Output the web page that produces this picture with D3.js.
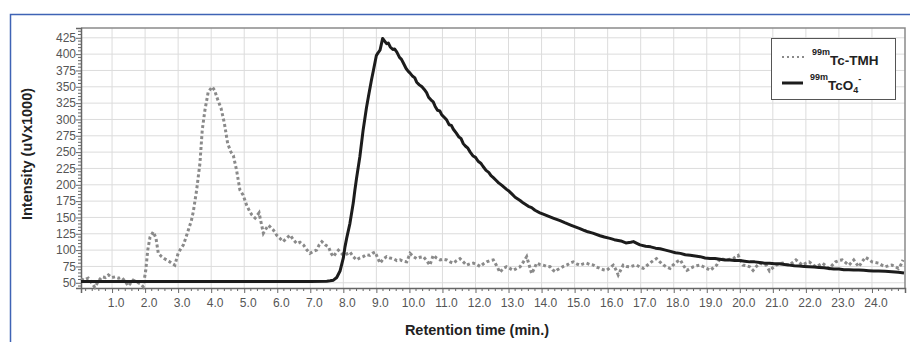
<!DOCTYPE html>
<html>
<head>
<meta charset="utf-8">
<script src="https://cdn.jsdelivr.net/npm/d3@7"></script>
<style>
  body { margin: 0; background: #fff; }
  text { font-family: "Liberation Sans", Arial, sans-serif; }
</style>
</head>
<body>
<div class="chromato"></div>
<script>
// x tick labels (minutes)
const xTicks = d3.range(1, 25);
const yTicks = [50, 75, 100, 125, 150, 175, 200, 225, 250, 275, 300, 325, 350, 375, 400, 425];

// 99mTcO4- (solid black) [time, intensity]
const tcoPoints = [
  [0.06, 52], [1, 52], [2, 52], [3, 52], [4, 52], [5, 52], [6, 52], [7, 52], [7.5, 52.5], [7.6, 53],
  [7.7, 54], [7.8, 58], [7.9, 68], [8.0, 88], [8.05, 105], [8.1, 118], [8.2, 141], [8.3, 172], [8.35, 192],
  [8.4, 210], [8.5, 243], [8.6, 284], [8.7, 318], [8.76, 335], [8.85, 360], [8.91, 375], [9.0, 398],
  [9.05, 402], [9.11, 406], [9.15, 415], [9.19, 424], [9.25, 420], [9.31, 416], [9.36, 417], [9.42, 411],
  [9.5, 407], [9.55, 408], [9.62, 403], [9.7, 395], [9.76, 392], [9.82, 386], [9.9, 378], [9.96, 374],
  [10.02, 371], [10.1, 366], [10.16, 364], [10.22, 357], [10.3, 353], [10.38, 350], [10.45, 346],
  [10.52, 341], [10.58, 334], [10.65, 330], [10.72, 327], [10.78, 320], [10.85, 314], [10.92, 313],
  [10.98, 307], [11.06, 303], [11.13, 299], [11.2, 292], [11.27, 291], [11.33, 285], [11.42, 279],
  [11.5, 273], [11.56, 271], [11.63, 263], [11.7, 259], [11.77, 256], [11.84, 250], [11.93, 244],
  [12.0, 242], [12.08, 236], [12.16, 233], [12.23, 228], [12.32, 222], [12.4, 219], [12.47, 214],
  [12.54, 211], [12.62, 207], [12.7, 203], [12.8, 199], [12.94, 193], [13.02, 190], [13.1, 186],
  [13.2, 181], [13.35, 176], [13.45, 172], [13.6, 167], [13.7, 165], [13.8, 161], [13.95, 157],
  [14.05, 155], [14.2, 152], [14.35, 149], [14.56, 145], [14.7, 142], [14.9, 138], [15.0, 136],
  [15.16, 133], [15.3, 130], [15.4, 128], [15.55, 126], [15.77, 122], [15.9, 120], [16.07, 118],
  [16.2, 116], [16.4, 114], [16.55, 111], [16.7, 112], [16.78, 113], [16.9, 110], [16.98, 108],
  [17.15, 106], [17.3, 105], [17.45, 103], [17.59, 102], [17.75, 100], [17.9, 98], [18.05, 96],
  [18.2, 95], [18.35, 93], [18.5, 92], [18.65, 91], [18.8, 90], [18.95, 88], [19.1, 87], [19.25, 87],
  [19.4, 86], [19.55, 85], [19.7, 85], [19.85, 84], [20.0, 84], [20.15, 83], [20.3, 82], [20.45, 82],
  [20.6, 81], [20.75, 80], [20.9, 80], [21.05, 79], [21.2, 79], [21.35, 78], [21.5, 77], [21.65, 76],
  [21.8, 75.5], [21.95, 75], [22.1, 74.5], [22.25, 74], [22.4, 73.5], [22.55, 73], [22.7, 72],
  [22.85, 71], [23.0, 71], [23.15, 70], [23.3, 70], [23.45, 69.5], [23.6, 69.5], [23.75, 69],
  [23.9, 68.5], [24.05, 68], [24.2, 68], [24.4, 67.5], [24.6, 67], [24.8, 66], [24.97, 65]
];

// 99mTc-TMH (grey dotted) [time, intensity]
const tmhPoints = [
  [0.06, 56], [0.15, 54], [0.28, 57], [0.38, 50], [0.48, 43], [0.58, 52], [0.69, 59], [0.8, 58], [0.89, 62],
  [1.0, 58], [1.09, 59], [1.2, 57], [1.29, 58], [1.4, 52], [1.49, 45], [1.57, 50], [1.64, 54], [1.72, 52],
  [1.79, 50], [1.87, 48], [1.94, 44], [2.02, 69], [2.08, 100], [2.15, 120], [2.25, 128], [2.33, 118],
  [2.4, 95], [2.5, 90], [2.58, 87], [2.65, 85], [2.72, 83], [2.8, 80], [2.9, 77], [3.0, 95], [3.08, 102],
  [3.16, 108], [3.24, 120], [3.31, 131], [3.4, 145], [3.46, 159], [3.56, 192], [3.66, 233], [3.73, 284],
  [3.81, 314], [3.91, 342], [4.03, 350], [4.1, 345], [4.2, 330], [4.3, 317], [4.4, 294], [4.5, 263],
  [4.6, 250], [4.67, 245], [4.77, 222], [4.87, 192], [4.97, 184], [5.07, 169], [5.17, 159], [5.23, 154],
  [5.33, 149], [5.45, 157], [5.52, 140], [5.58, 126], [5.65, 132], [5.73, 138], [5.8, 135], [5.88, 131],
  [5.98, 123], [6.08, 118], [6.18, 113], [6.28, 118], [6.39, 123], [6.5, 115], [6.59, 110], [6.69, 112],
  [6.79, 108], [6.9, 100], [6.99, 95], [7.09, 98], [7.19, 100], [7.27, 108], [7.35, 113], [7.45, 108],
  [7.55, 105], [7.63, 95], [7.7, 90], [7.78, 96], [7.85, 100], [7.93, 96], [8.0, 92], [8.1, 94], [8.2, 97],
  [8.3, 90], [8.4, 85], [8.5, 88], [8.6, 90], [8.7, 93], [8.8, 92], [8.88, 95], [8.96, 97], [9.04, 88],
  [9.11, 80], [9.2, 86], [9.31, 90], [9.41, 88], [9.51, 87], [9.62, 84], [9.72, 85], [9.82, 83], [9.92, 82],
  [10.02, 95], [10.12, 90], [10.22, 87], [10.32, 89], [10.42, 90], [10.52, 84], [10.62, 77], [10.72, 92],
  [10.82, 88], [10.93, 85], [11.03, 86], [11.13, 85], [11.23, 82], [11.33, 80], [11.43, 84], [11.53, 87],
  [11.63, 82], [11.73, 77], [11.83, 79], [11.93, 80], [12.04, 78], [12.14, 75], [12.24, 79], [12.34, 82],
  [12.44, 84], [12.54, 85], [12.64, 76], [12.74, 66], [12.84, 72], [12.94, 74.5], [13.04, 72], [13.14, 69],
  [13.25, 72], [13.35, 74.5], [13.45, 82], [13.55, 90], [13.62, 78], [13.7, 64], [13.78, 72], [13.85, 80],
  [13.95, 78], [14.05, 77], [14.15, 75], [14.26, 74.5], [14.33, 70], [14.41, 67], [14.48, 70], [14.56, 72],
  [14.66, 75], [14.76, 77], [14.86, 80], [14.96, 82], [15.06, 79], [15.16, 77], [15.26, 79], [15.36, 80],
  [15.46, 78], [15.57, 77], [15.67, 74], [15.77, 72], [15.87, 70], [15.97, 69], [16.07, 73], [16.17, 77],
  [16.25, 70], [16.32, 62], [16.4, 70], [16.47, 77], [16.57, 75], [16.68, 74.5], [16.78, 76], [16.88, 77],
  [16.98, 74], [17.08, 72], [17.18, 76], [17.28, 80], [17.38, 84], [17.48, 87], [17.58, 82], [17.69, 77],
  [17.79, 74], [17.89, 72], [17.96, 76], [18.04, 80], [18.12, 83], [18.2, 85], [18.3, 76], [18.4, 69],
  [18.5, 72], [18.6, 74.5], [18.7, 76], [18.8, 77], [18.9, 74.5], [19.0, 72], [19.1, 69], [19.2, 73],
  [19.3, 77], [19.4, 87], [19.5, 86], [19.6, 85], [19.7, 86], [19.8, 87], [19.88, 90], [19.95, 92],
  [20.02, 84], [20.1, 77], [20.2, 76], [20.3, 74.5], [20.4, 69], [20.5, 75], [20.6, 80], [20.7, 78],
  [20.8, 77], [20.9, 68], [21.0, 73], [21.1, 77], [21.2, 79], [21.3, 80], [21.4, 78], [21.5, 77], [21.6, 81],
  [21.7, 85], [21.8, 81], [21.9, 77], [22.0, 80], [22.1, 82], [22.2, 78], [22.3, 74.5], [22.4, 77],
  [22.5, 80], [22.6, 76], [22.7, 72], [22.8, 77], [22.9, 82], [23.0, 84], [23.1, 85], [23.2, 81], [23.3, 77],
  [23.38, 81], [23.45, 85], [23.52, 80], [23.6, 74.5], [23.7, 82], [23.8, 89], [23.9, 86], [24.0, 82],
  [24.1, 81], [24.2, 80], [24.3, 77], [24.4, 74.5], [24.5, 76], [24.6, 77], [24.7, 75], [24.8, 72],
  [24.88, 78], [24.94, 85]
];

const width = 910, height = 342;
const mLeft = 81, mRight = 905, mTop = 28, mBottom = 288;

const svg = d3.select('.chromato').append('svg').attr('width', width).attr('height', height);

// blue outer frame (top + left)
svg.append('path')
  .attr('d', 'M10.5,342 V14.5 H910')
  .attr('fill', 'none').attr('stroke', '#3f63b5').attr('stroke-width', 1.5);

const xScale = d3.scaleLinear().domain([0.06, 25]).range([mLeft, mRight]);
const yScale = d3.scaleLinear().domain([42, 440]).range([mBottom, mTop]);

// grid
const grid = svg.append('g').attr('class', 'grid');
grid.selectAll('line.v').data(xTicks).join('line').attr('class', 'v')
  .attr('x1', d => xScale(d)).attr('x2', d => xScale(d))
  .attr('y1', mTop).attr('y2', mBottom)
  .attr('stroke', '#dcdcdc').attr('stroke-width', 1);
grid.selectAll('line.h').data(yTicks).join('line').attr('class', 'h')
  .attr('x1', mLeft).attr('x2', mRight)
  .attr('y1', d => yScale(d)).attr('y2', d => yScale(d))
  .attr('stroke', '#dcdcdc').attr('stroke-width', 1);

// plot border top/right
svg.append('path')
  .attr('d', `M${mLeft},${mTop} H${mRight} V${mBottom}`)
  .attr('fill', 'none').attr('stroke', '#8a8a8a').attr('stroke-width', 1.5);

// minor ticks
const xMinor = d3.range(0.2, 25, 0.2).filter(d => Math.abs(d - Math.round(d)) > 0.01);
svg.append('g').selectAll('line').data(xMinor).join('line')
  .attr('x1', d => xScale(d)).attr('x2', d => xScale(d))
  .attr('y1', mBottom).attr('y2', mBottom + 3)
  .attr('stroke', '#666').attr('stroke-width', 1);
const yMinor = d3.range(45, 440, 5).filter(d => d % 25 !== 0);
svg.append('g').selectAll('line').data(yMinor).join('line')
  .attr('x1', mLeft - 3).attr('x2', mLeft)
  .attr('y1', d => yScale(d)).attr('y2', d => yScale(d))
  .attr('stroke', '#666').attr('stroke-width', 1);

// axes
const xAxis = d3.axisBottom(xScale).tickValues(xTicks).tickSize(5).tickFormat(d3.format('.1f'));
const gx = svg.append('g').attr('transform', `translate(0,${mBottom})`).call(xAxis);
gx.select('.domain').attr('stroke', '#666').attr('stroke-width', 1.5);
gx.selectAll('.tick line').attr('stroke', '#666');
gx.selectAll('.tick text').attr('dx', 3.5).attr('dy', '0.95em')
  .attr('fill', '#555').style('font-size', '12px');

const yAxis = d3.axisLeft(yScale).tickValues(yTicks).tickSize(5);
const gy = svg.append('g').attr('transform', `translate(${mLeft},0)`).call(yAxis);
gy.select('.domain').attr('stroke', '#666').attr('stroke-width', 1.5);
gy.selectAll('.tick line').attr('stroke', '#666');
gy.selectAll('.tick text').attr('x', -5).attr('fill', '#555').style('font-size', '12px');

// lines
const line = d3.line().x(d => xScale(d[0])).y(d => yScale(d[1]));

svg.append('path').datum(tmhPoints)
  .attr('d', line)
  .attr('fill', 'none').attr('stroke', '#8a8a8a')
  .attr('stroke-width', 3).attr('stroke-dasharray', '3,2.5');

svg.append('path').datum(tcoPoints)
  .attr('d', line)
  .attr('fill', 'none').attr('stroke', '#1c1c1c')
  .attr('stroke-width', 3).attr('stroke-linejoin', 'round');

// axis titles
svg.append('text')
  .attr('transform', 'translate(32,154) rotate(-90)')
  .attr('text-anchor', 'middle')
  .style('font-size', '14.5px').style('font-weight', 'bold').attr('fill', '#222')
  .text('Intensity (uVx1000)');

svg.append('text')
  .attr('x', 477).attr('y', 335)
  .attr('text-anchor', 'middle')
  .style('font-size', '14.5px').style('font-weight', 'bold').attr('fill', '#222')
  .text('Retention time (min.)');

// legend
const lg = svg.append('g');
lg.append('rect').attr('x', 771.5).attr('y', 38.5).attr('width', 124).attr('height', 61)
  .attr('fill', '#fff').attr('stroke', '#555').attr('stroke-width', 1);
lg.append('line').attr('x1', 782).attr('x2', 804).attr('y1', 57).attr('y2', 57)
  .attr('stroke', '#8a8a8a').attr('stroke-width', 2).attr('stroke-dasharray', '2,3');
lg.append('line').attr('x1', 782).attr('x2', 803).attr('y1', 83).attr('y2', 83)
  .attr('stroke', '#1c1c1c').attr('stroke-width', 3);

const t1 = lg.append('text').attr('x', 812).attr('y', 65).attr('fill', '#222')
  .style('font-weight', 'bold').style('font-size', '13.5px');
t1.append('tspan').attr('dy', -10).style('font-size', '9px').text('99m');
t1.append('tspan').attr('dy', 10).style('font-size', '13.5px').text('Tc-TMH');

const t2 = lg.append('text').attr('x', 810).attr('y', 90).attr('fill', '#222')
  .style('font-weight', 'bold').style('font-size', '13.5px');
t2.append('tspan').attr('dy', -10).style('font-size', '9px').text('99m');
t2.append('tspan').attr('dy', 10).style('font-size', '13.5px').text('TcO');
t2.append('tspan').attr('dy', 3).style('font-size', '9px').text('4');
t2.append('tspan').attr('dy', -11).style('font-size', '9px').text('-');
</script>
</body>
</html>
